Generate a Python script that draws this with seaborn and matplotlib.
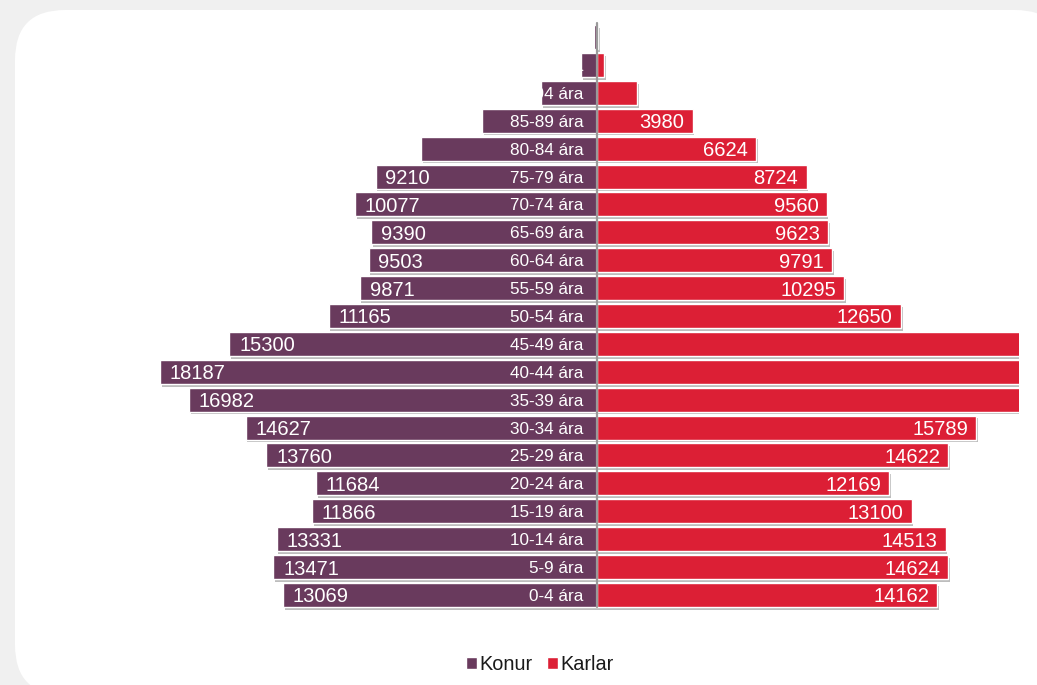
import pandas as pd
import matplotlib
matplotlib.use('Agg')
import matplotlib.pyplot as plt
import matplotlib.patheffects as pe
from matplotlib.patches import FancyBboxPatch
import seaborn as sns

# age groups, top of the pyramid first
ages = ['100+ ára', '95-99 ára', '90-94 ára', '85-89 ára', '80-84 ára', '75-79 ára',
        '70-74 ára', '65-69 ára', '60-64 ára', '55-59 ára', '50-54 ára', '45-49 ára',
        '40-44 ára', '35-39 ára', '30-34 ára', '25-29 ára', '20-24 ára', '15-19 ára',
        '10-14 ára', '5-9 ára', '0-4 ára']
konur = [130, 670, 2330, 4790, 7320, 9210, 10077, 9390, 9503, 9871, 11165, 15300,
         18187, 16982, 14627, 13760, 11684, 11866, 13331, 13471, 13069]
karlar = [40, 300, 1660, 3980, 6624, 8724, 9560, 9623, 9791, 10295, 12650, 17900,
          19600, 18400, 15789, 14622, 12169, 13100, 14513, 14624, 14162]

PURPLE = '#693a5d'
RED = '#dc1f35'

sns.set_style('white')
plt.rcParams['font.family'] = ['Liberation Sans', 'DejaVu Sans']

df = pd.concat([
    pd.DataFrame({'age': ages, 'value': [-v for v in konur], 'sex': 'Konur'}),
    pd.DataFrame({'age': ages, 'value': karlar, 'sex': 'Karlar'}),
])

fig = plt.figure(figsize=(10.37, 6.85), dpi=100, facecolor='#f0f0f0')
fig.patches.append(FancyBboxPatch((15, -10), 1050, 685, boxstyle='round,pad=0,rounding_size=50',
                                  transform=None, facecolor='white', edgecolor='none', zorder=-5))

ax = fig.add_axes([140 / 1037, 1 - 611.7 / 685, 879 / 1037, (611.7 - 20.3) / 685])
sns.barplot(data=df, x='value', y='age', hue='sex', order=ages, orient='h', dodge=False,
            palette={'Konur': PURPLE, 'Karlar': RED}, width=0.86, ax=ax, saturation=1)

handles, labels = ax.get_legend_handles_labels()
if ax.get_legend() is not None:
    ax.get_legend().remove()

for p in ax.patches:
    p.set_path_effects([pe.SimplePatchShadow(offset=(1.2, -2.0), shadow_rgbFace='#888888', alpha=0.55),
                        pe.Normal()])

ax.set_xlim(-19018, 17560)
ax.set_ylim(len(ages) - 0.4, -0.6)
ax.axis('off')
ax.axvline(0, ymin=0.008, ymax=0.995, color='#9a9a9a', lw=1.6, zorder=5)

for i, age in enumerate(ages):
    ax.annotate(age, (0, i), xytext=(-10, 0), textcoords='offset points', ha='right',
                va='center_baseline', color='white', fontsize=12.3, zorder=6)
    if i >= 5:
        ax.annotate(str(konur[i]), (-konur[i], i), xytext=(7, 0), textcoords='offset points',
                    ha='left', va='center_baseline', color='white', fontsize=14.5, zorder=6)
    if 3000 <= karlar[i] < 17000:
        ax.annotate(str(karlar[i]), (karlar[i], i), xytext=(-6, 0), textcoords='offset points',
                    ha='right', va='center_baseline', color='white', fontsize=14.5, zorder=6)

leg = fig.legend(handles, labels, loc='center', bbox_to_anchor=(540 / 1037, 1 - 665 / 685), ncol=2,
                 frameon=False, fontsize=14.3, handlelength=0.55, handleheight=0.55, handletextpad=0.15,
                 columnspacing=0.7, labelcolor='#1a1a1a')
for h in leg.legend_handles:
    h.set_path_effects([])

fig.savefig('out.png', dpi=100, facecolor=fig.get_facecolor())
